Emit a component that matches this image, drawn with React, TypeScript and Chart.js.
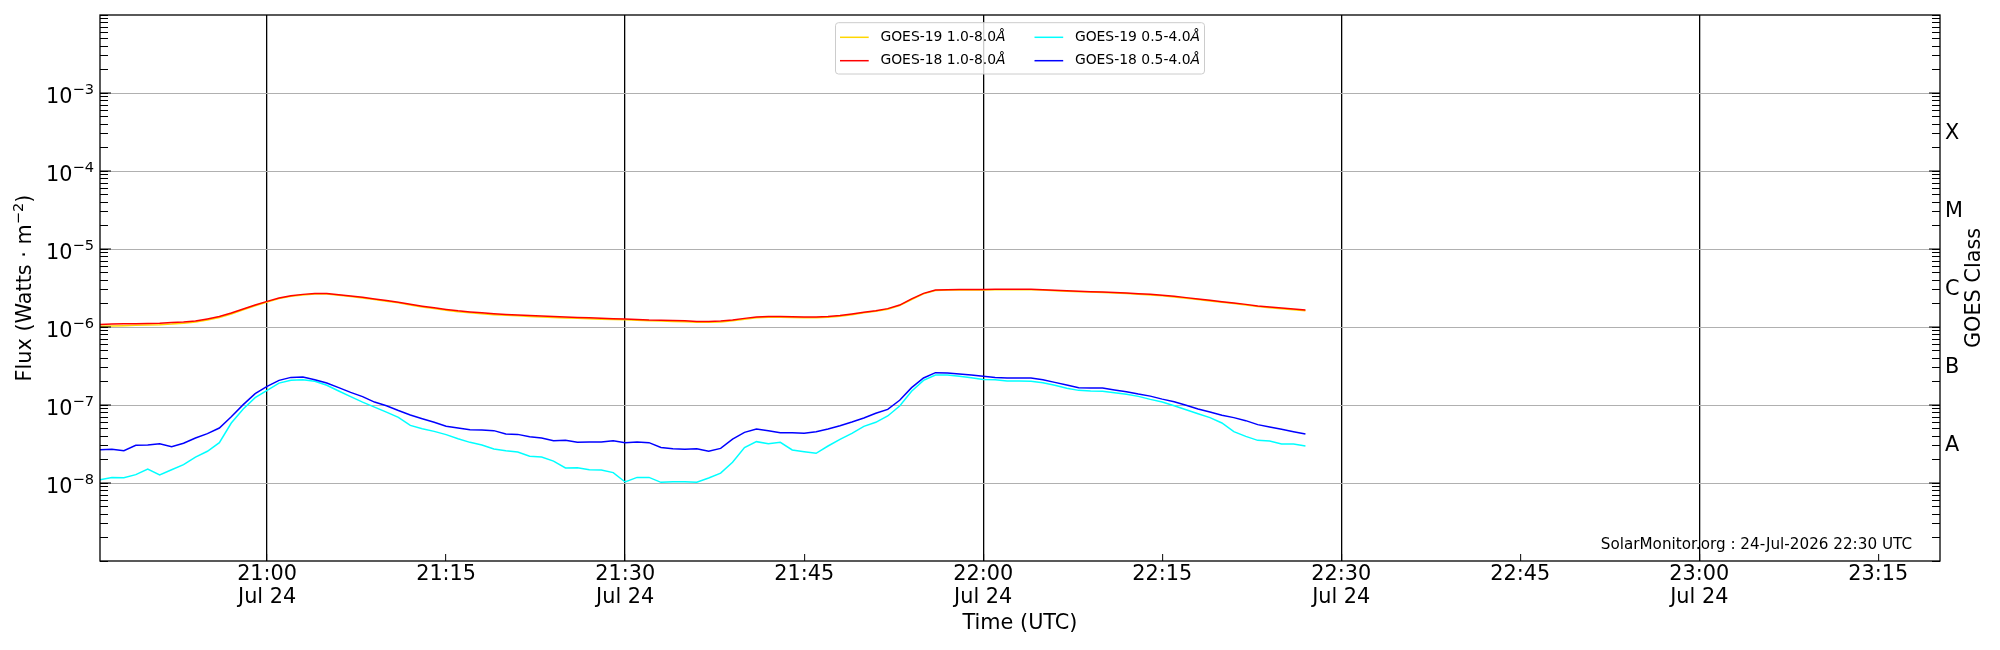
import { useEffect, useRef } from "react";
import { Chart, registerables } from "chart.js";

Chart.register(...registerables);

const FONT = "'DejaVu Sans', sans-serif";
const TICK_SIZE = 20.8;
const SUP_SIZE = 14.6;

// one-minute samples, 20:46 - 22:27 UTC
const times = [
  "20:46", "20:47", "20:48", "20:49", "20:50", "20:51", "20:52", "20:53", "20:54", "20:55",
  "20:56", "20:57", "20:58", "20:59", "21:00", "21:01", "21:02", "21:03", "21:04", "21:05",
  "21:06", "21:07", "21:08", "21:09", "21:10", "21:11", "21:12", "21:13", "21:14", "21:15",
  "21:16", "21:17", "21:18", "21:19", "21:20", "21:21", "21:22", "21:23", "21:24", "21:25",
  "21:26", "21:27", "21:28", "21:29", "21:30", "21:31", "21:32", "21:33", "21:34", "21:35",
  "21:36", "21:37", "21:38", "21:39", "21:40", "21:41", "21:42", "21:43", "21:44", "21:45",
  "21:46", "21:47", "21:48", "21:49", "21:50", "21:51", "21:52", "21:53", "21:54", "21:55",
  "21:56", "21:57", "21:58", "21:59", "22:00", "22:01", "22:02", "22:03", "22:04", "22:05",
  "22:06", "22:07", "22:08", "22:09", "22:10", "22:11", "22:12", "22:13", "22:14", "22:15",
  "22:16", "22:17", "22:18", "22:19", "22:20", "22:21", "22:22", "22:23", "22:24", "22:25",
  "22:26", "22:27",
];

const goes19Long = [
  1.02e-6, 1.03e-6, 1.04e-6, 1.05e-6, 1.06e-6, 1.07e-6, 1.09e-6, 1.12e-6, 1.16e-6, 1.23e-6,
  1.32e-6, 1.47e-6, 1.66e-6, 1.87e-6, 2.09e-6, 2.31e-6, 2.48e-6, 2.58e-6, 2.64e-6, 2.64e-6,
  2.56e-6, 2.46e-6, 2.36e-6, 2.25e-6, 2.14e-6, 2.04e-6, 1.92e-6, 1.81e-6, 1.72e-6, 1.64e-6,
  1.57e-6, 1.52e-6, 1.48e-6, 1.44e-6, 1.41e-6, 1.39e-6, 1.36e-6, 1.34e-6, 1.32e-6, 1.30e-6,
  1.29e-6, 1.28e-6, 1.26e-6, 1.25e-6, 1.24e-6, 1.22e-6, 1.20e-6, 1.19e-6, 1.18e-6, 1.17e-6,
  1.15e-6, 1.15e-6, 1.16e-6, 1.20e-6, 1.26e-6, 1.31e-6, 1.33e-6, 1.33e-6, 1.32e-6, 1.31e-6,
  1.31e-6, 1.33e-6, 1.37e-6, 1.44e-6, 1.52e-6, 1.59e-6, 1.69e-6, 1.88e-6, 2.25e-6, 2.66e-6,
  2.94e-6, 2.97e-6, 2.98e-6, 2.98e-6, 2.99e-6, 3.00e-6, 3.00e-6, 3.01e-6, 3.00e-6, 2.97e-6,
  2.91e-6, 2.87e-6, 2.83e-6, 2.80e-6, 2.77e-6, 2.73e-6, 2.69e-6, 2.63e-6, 2.58e-6, 2.51e-6,
  2.43e-6, 2.34e-6, 2.25e-6, 2.16e-6, 2.08e-6, 2.00e-6, 1.92e-6, 1.83e-6, 1.77e-6, 1.72e-6,
  1.67e-6, 1.62e-6,
];

const goes18Long = [
  1.08e-6, 1.09e-6, 1.10e-6, 1.10e-6, 1.11e-6, 1.12e-6, 1.14e-6, 1.16e-6, 1.19e-6, 1.27e-6,
  1.36e-6, 1.51e-6, 1.70e-6, 1.91e-6, 2.13e-6, 2.35e-6, 2.52e-6, 2.62e-6, 2.68e-6, 2.68e-6,
  2.60e-6, 2.50e-6, 2.40e-6, 2.29e-6, 2.18e-6, 2.08e-6, 1.96e-6, 1.85e-6, 1.76e-6, 1.68e-6,
  1.61e-6, 1.56e-6, 1.52e-6, 1.48e-6, 1.45e-6, 1.43e-6, 1.40e-6, 1.38e-6, 1.36e-6, 1.34e-6,
  1.32e-6, 1.31e-6, 1.29e-6, 1.28e-6, 1.27e-6, 1.25e-6, 1.23e-6, 1.22e-6, 1.21e-6, 1.20e-6,
  1.18e-6, 1.18e-6, 1.19e-6, 1.23e-6, 1.29e-6, 1.34e-6, 1.36e-6, 1.36e-6, 1.35e-6, 1.34e-6,
  1.34e-6, 1.36e-6, 1.40e-6, 1.47e-6, 1.55e-6, 1.62e-6, 1.72e-6, 1.91e-6, 2.29e-6, 2.70e-6,
  2.98e-6, 3.01e-6, 3.02e-6, 3.02e-6, 3.03e-6, 3.04e-6, 3.04e-6, 3.05e-6, 3.04e-6, 3.01e-6,
  2.95e-6, 2.91e-6, 2.87e-6, 2.84e-6, 2.81e-6, 2.77e-6, 2.73e-6, 2.67e-6, 2.62e-6, 2.55e-6,
  2.47e-6, 2.38e-6, 2.29e-6, 2.20e-6, 2.11e-6, 2.03e-6, 1.95e-6, 1.86e-6, 1.80e-6, 1.75e-6,
  1.70e-6, 1.65e-6,
];

const goes19Short = [
  1.10e-8, 1.18e-8, 1.17e-8, 1.28e-8, 1.51e-8, 1.27e-8, 1.48e-8, 1.72e-8, 2.15e-8, 2.55e-8,
  3.29e-8, 5.87e-8, 8.89e-8, 1.24e-7, 1.54e-7, 1.91e-7, 2.07e-7, 2.11e-7, 2.01e-7, 1.79e-7,
  1.51e-7, 1.28e-7, 1.09e-7, 9.4e-8, 8.1e-8, 6.95e-8, 5.48e-8, 4.97e-8, 4.59e-8, 4.17e-8,
  3.70e-8, 3.32e-8, 3.07e-8, 2.73e-8, 2.60e-8, 2.50e-8, 2.20e-8, 2.15e-8, 1.91e-8, 1.56e-8,
  1.57e-8, 1.48e-8, 1.47e-8, 1.36e-8, 1.03e-8, 1.18e-8, 1.18e-8, 1.02e-8, 1.04e-8, 1.04e-8,
  1.02e-8, 1.16e-8, 1.34e-8, 1.84e-8, 2.84e-8, 3.39e-8, 3.19e-8, 3.32e-8, 2.65e-8, 2.52e-8,
  2.40e-8, 2.98e-8, 3.63e-8, 4.33e-8, 5.33e-8, 6.00e-8, 7.23e-8, 9.71e-8, 1.50e-7, 2.07e-7,
  2.42e-7, 2.42e-7, 2.33e-7, 2.24e-7, 2.13e-7, 2.10e-7, 2.03e-7, 2.03e-7, 2.01e-7, 1.93e-7,
  1.79e-7, 1.64e-7, 1.54e-7, 1.51e-7, 1.50e-7, 1.44e-7, 1.37e-7, 1.29e-7, 1.18e-7, 1.09e-7,
  9.8e-8, 8.7e-8, 7.74e-8, 6.89e-8, 5.88e-8, 4.55e-8, 3.96e-8, 3.52e-8, 3.45e-8, 3.16e-8,
  3.16e-8, 2.98e-8,
];

const goes18Short = [
  2.67e-8, 2.70e-8, 2.60e-8, 3.04e-8, 3.07e-8, 3.19e-8, 2.92e-8, 3.23e-8, 3.78e-8, 4.29e-8,
  5.07e-8, 7.08e-8, 1.01e-7, 1.40e-7, 1.73e-7, 2.07e-7, 2.26e-7, 2.29e-7, 2.11e-7, 1.91e-7,
  1.67e-7, 1.45e-7, 1.28e-7, 1.09e-7, 9.8e-8, 8.5e-8, 7.44e-8, 6.68e-8, 6.00e-8, 5.33e-8,
  5.07e-8, 4.83e-8, 4.78e-8, 4.69e-8, 4.25e-8, 4.20e-8, 3.93e-8, 3.78e-8, 3.49e-8, 3.52e-8,
  3.32e-8, 3.35e-8, 3.35e-8, 3.49e-8, 3.29e-8, 3.35e-8, 3.29e-8, 2.86e-8, 2.75e-8, 2.70e-8,
  2.75e-8, 2.55e-8, 2.78e-8, 3.66e-8, 4.46e-8, 4.92e-8, 4.69e-8, 4.42e-8, 4.42e-8, 4.33e-8,
  4.55e-8, 4.92e-8, 5.43e-8, 6.05e-8, 6.81e-8, 7.82e-8, 8.79e-8, 1.15e-7, 1.67e-7, 2.22e-7,
  2.60e-7, 2.57e-7, 2.49e-7, 2.42e-7, 2.33e-7, 2.26e-7, 2.22e-7, 2.22e-7, 2.22e-7, 2.11e-7,
  1.95e-7, 1.81e-7, 1.67e-7, 1.65e-7, 1.65e-7, 1.56e-7, 1.48e-7, 1.38e-7, 1.30e-7, 1.19e-7,
  1.10e-7, 9.9e-8, 8.89e-8, 8.13e-8, 7.38e-8, 6.89e-8, 6.30e-8, 5.60e-8, 5.22e-8, 4.88e-8,
  4.55e-8, 4.25e-8,
];

const seriesLabels = ["GOES-19 1.0-8.0", "GOES-18 1.0-8.0", "GOES-19 0.5-4.0", "GOES-18 0.5-4.0"];
const bandUnit = "Å";
const seriesColors = ["#ffd700", "#ff0000", "#00ffff", "#0000ff"];

const xTickLabels = [
  "21:00", "21:15", "21:30", "21:45", "22:00", "22:15", "22:30", "22:45", "23:00", "23:15",
];
const dayLabel = "Jul 24";
const xLimits = ["20:46:00", "23:20:10"];

const decadeExponents = [-8, -7, -6, -5, -4, -3];
const classLabels = ["A", "B", "C", "M", "X"]; // at 3e-8 .. 3e-4
const footnote = "SolarMonitor.org : 24-Jul-2026 22:30 UTC";

// minutes after 20:00
const toMinutes = (s: string) => {
  const [h, m, sec] = s.split(":").map(Number);
  return (h - 20) * 60 + m + (sec || 0) / 60;
};

const logTicks: { value: number; k: number; e: number }[] = [];
for (let e = -9; e <= -3; e++) {
  for (let k = 1; k <= 9; k++) logTicks.push({ value: Number(`${k}e${e}`), k, e });
}
logTicks.push({ value: 1e-2, k: 1, e: -2 });
const tickInfo = (v: number) => logTicks.find((t) => Math.abs(t.value - v) / v < 1e-6);
const isDecade = (v: number) => {
  const t = tickInfo(v);
  return !!t && t.k === 1 && decadeExponents.includes(t.e);
};

const overlayPlugin = {
  id: "overlay",
  afterDraw(chart: Chart) {
    const { ctx, chartArea: a } = chart;
    const yScale = chart.scales.y;
    ctx.save();

    // frame
    ctx.strokeStyle = "#000";
    ctx.lineWidth = 1.3;
    ctx.strokeRect(a.left, a.top, a.right - a.left, a.bottom - a.top);

    // longer major ticks and 10^n labels
    ctx.lineWidth = 1;
    ctx.fillStyle = "#000";
    ctx.textAlign = "right";
    ctx.textBaseline = "alphabetic";
    decadeExponents.forEach((e) => {
      const y = yScale.getPixelForValue(Number(`1e${e}`));
      ctx.beginPath();
      ctx.moveTo(a.left, y);
      ctx.lineTo(a.left + 11, y);
      ctx.moveTo(a.right, y);
      ctx.lineTo(a.right - 11, y);
      ctx.stroke();
      const expText = "\u2212" + Math.abs(e);
      ctx.font = `${SUP_SIZE}px ${FONT}`;
      const ew = ctx.measureText(expText).width;
      ctx.fillText(expText, a.left - 6, y + 1.4);
      ctx.font = `${TICK_SIZE}px ${FONT}`;
      ctx.fillText("10", a.left - 6 - ew, y + 9.7);
    });

    // left axis title with superscript
    {
      const parts = [
        { t: "Flux (Watts \u00b7 m", s: TICK_SIZE, dy: 0 },
        { t: "\u22122", s: SUP_SIZE, dy: -8.3 },
        { t: ")", s: TICK_SIZE, dy: 0 },
      ];
      const ws = parts.map((p) => {
        ctx.font = `${p.s}px ${FONT}`;
        return ctx.measureText(p.t).width;
      });
      const total = ws.reduce((s, w) => s + w, 0);
      ctx.save();
      ctx.translate(31, (a.top + a.bottom) / 2);
      ctx.rotate(-Math.PI / 2);
      ctx.textAlign = "left";
      let x = -total / 2;
      parts.forEach((p, i) => {
        ctx.font = `${p.s}px ${FONT}`;
        ctx.fillText(p.t, x, p.dy);
        x += ws[i];
      });
      ctx.restore();
    }

    // legend, two columns, top centre inside the axes
    const fs = 13.9;
    const normal = `${fs}px ${FONT}`;
    const italic = `italic ${fs}px ${FONT}`;
    const widths = seriesLabels.map((l) => {
      ctx.font = normal;
      const w1 = ctx.measureText(l).width;
      ctx.font = italic;
      return w1 + ctx.measureText(bandUnit).width;
    });
    const handle = 28.7;
    const gap = 11.7;
    const colGap = 29;
    const padX = 4.5;
    const col1 = Math.max(widths[0], widths[1]);
    const col2 = Math.max(widths[2], widths[3]);
    const boxW = padX * 2 + handle * 2 + gap * 2 + col1 + colGap + col2;
    const boxH = 51.3;
    const boxX = (a.left + a.right) / 2 - boxW / 2;
    const boxY = a.top + 7.7;
    ctx.beginPath();
    ctx.roundRect(boxX, boxY, boxW, boxH, 3);
    ctx.fillStyle = "rgba(255,255,255,0.8)";
    ctx.fill();
    ctx.strokeStyle = "#cccccc";
    ctx.lineWidth = 1;
    ctx.stroke();
    ctx.textBaseline = "middle";
    ctx.textAlign = "left";
    seriesLabels.forEach((l, i) => {
      const col = Math.floor(i / 2);
      const row = i % 2;
      const x0 = boxX + padX + (col === 0 ? 0 : handle + gap + col1 + colGap);
      const y = boxY + 14.6 + row * 23.4;
      ctx.strokeStyle = seriesColors[i];
      ctx.lineWidth = 1.5;
      ctx.beginPath();
      ctx.moveTo(x0, y);
      ctx.lineTo(x0 + handle, y);
      ctx.stroke();
      ctx.fillStyle = "#000";
      ctx.font = normal;
      const tx = x0 + handle + gap;
      ctx.fillText(l, tx, y);
      const w = ctx.measureText(l).width;
      ctx.font = italic;
      ctx.fillText(bandUnit, tx + w, y);
    });

    // footnote
    ctx.font = `15.2px ${FONT}`;
    ctx.fillStyle = "#000";
    ctx.textAlign = "right";
    ctx.textBaseline = "alphabetic";
    ctx.fillText(footnote, a.right - 28, a.bottom - 12);

    // right axis title, reading upwards
    ctx.translate(1975, (a.top + a.bottom) / 2);
    ctx.rotate(-Math.PI / 2);
    ctx.font = `${TICK_SIZE}px ${FONT}`;
    ctx.textAlign = "center";
    ctx.textBaseline = "middle";
    ctx.fillText("GOES Class", 0, 0);

    ctx.restore();
  },
};

export default function App() {
  const canvasRef = useRef<HTMLCanvasElement>(null);

  useEffect(() => {
    document.body.style.margin = "0";
    if (!canvasRef.current) return;
    Chart.defaults.font.family = FONT;
    Chart.defaults.color = "#000";

    const series = [goes19Long, goes18Long, goes19Short, goes18Short];
    const datasets = series.map((values, i) => ({
      label: seriesLabels[i] + bandUnit,
      data: times.map((t, j) => ({ x: toMinutes(t), y: values[j] })),
      borderColor: seriesColors[i],
      backgroundColor: seriesColors[i],
      borderWidth: 1.5,
      pointRadius: 0,
      tension: 0,
      fill: false,
      order: 4 - i,
      yAxisID: "y",
    }));

    const setLogTicks = (scale: any) => {
      scale.ticks = logTicks.map((t) => ({ value: t.value }));
    };

    const chart = new Chart(canvasRef.current, {
      type: "line",
      data: { datasets },
      options: {
        animation: false,
        responsive: false,
        events: [],
        layout: { padding: { top: 15, left: 0, right: 0, bottom: 0 } },
        plugins: {
          legend: { display: false },
          tooltip: { enabled: false },
        },
        scales: {
          x: {
            type: "linear",
            position: "bottom",
            min: toMinutes(xLimits[0]),
            max: toMinutes(xLimits[1]),
            afterBuildTicks: (scale: any) => {
              scale.ticks = xTickLabels.map((l) => ({ value: toMinutes(l) }));
            },
            afterFit: (scale: any) => {
              scale.height = 89;
            },
            ticks: {
              autoSkip: false,
              maxRotation: 0,
              padding: 9,
              font: { size: TICK_SIZE, lineHeight: 1.1 },
              callback: (value: any) => {
                const l = xTickLabels.find((t) => Math.abs(toMinutes(t) - value) < 1e-6) || "";
                return Math.round(value) % 30 === 0 ? [l, dayLabel] : l;
              },
            },
            grid: {
              display: true,
              drawOnChartArea: true,
              drawTicks: true,
              tickLength: -7,
              tickColor: "#000",
              tickWidth: 1,
              lineWidth: 1.3,
              color: (c: any) =>
                c.tick && Math.round(c.tick.value) % 30 === 0 ? "#000" : "rgba(0,0,0,0)",
            },
            border: { display: false },
            title: {
              display: true,
              text: "Time (UTC)",
              font: { size: TICK_SIZE },
              padding: { top: 0, bottom: 14 },
            },
          },
          y: {
            type: "logarithmic",
            position: "left",
            min: 1e-9,
            max: 1e-2,
            afterBuildTicks: setLogTicks,
            afterFit: (scale: any) => {
              scale.width = 100;
              scale.paddingTop = 0;
              scale.paddingBottom = 0;
            },
            ticks: { display: false, autoSkip: false },
            grid: {
              display: true,
              drawOnChartArea: true,
              drawTicks: true,
              tickLength: -8,
              tickColor: "#000",
              tickWidth: 1,
              lineWidth: 1,
              color: (c: any) =>
                c.tick && isDecade(c.tick.value) ? "#b0b0b0" : "rgba(0,0,0,0)",
            },
            border: { display: false },
            title: { display: false },
          },
          y2: {
            type: "logarithmic",
            position: "right",
            min: 1e-9,
            max: 1e-2,
            afterBuildTicks: setLogTicks,
            afterFit: (scale: any) => {
              scale.width = 60;
              scale.paddingTop = 0;
              scale.paddingBottom = 0;
            },
            ticks: {
              autoSkip: false,
              padding: 13,
              font: { size: TICK_SIZE },
              callback: (value: any) => {
                const t = tickInfo(value);
                if (t && t.k === 3 && t.e >= -8 && t.e <= -4) return classLabels[t.e + 8];
                return "";
              },
            },
            grid: {
              display: true,
              drawOnChartArea: false,
              drawTicks: true,
              tickLength: -8,
              tickColor: "#000",
              tickWidth: 1,
            },
            border: { display: false },
          },
        },
      },
      plugins: [overlayPlugin],
    });

    return () => {
      chart.destroy();
    };
  }, []);

  return <canvas ref={canvasRef} width={2000} height={650} style={{ display: "block" }} />;
}
